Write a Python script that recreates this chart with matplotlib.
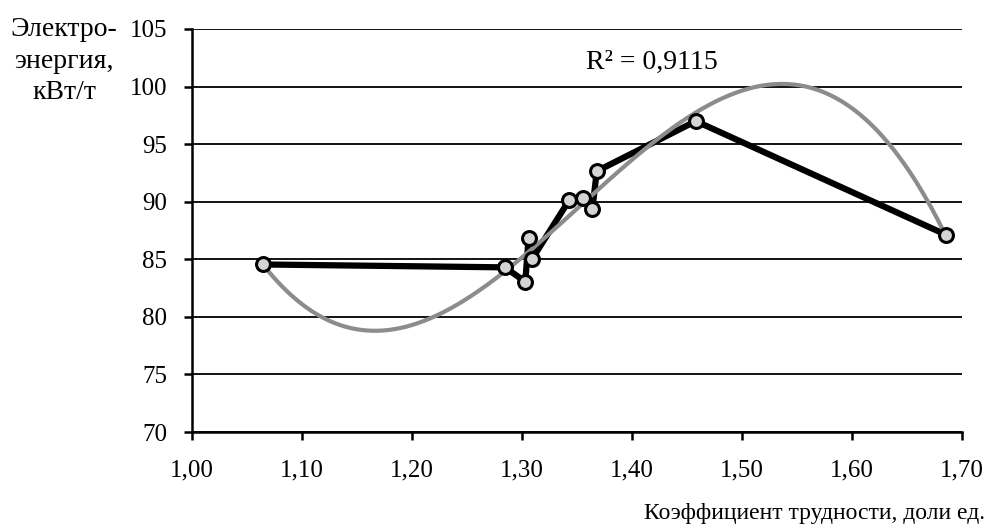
import numpy as np
import matplotlib.pyplot as plt
from matplotlib.ticker import FuncFormatter

# === DATA ===
coef = [1.065, 1.2845, 1.303, 1.306, 1.309, 1.343, 1.355, 1.364, 1.368, 1.458, 1.685]
energy = [84.55, 84.3, 83.05, 86.85, 85.0, 90.15, 90.3, 89.4, 92.65, 97.0, 87.15]
r2_text = "R² = 0,9115"
ylabel_lines = ["Электро-", "энергия,", "кВт/т"]

plt.rcParams['font.family'] = ['Liberation Serif', 'DejaVu Serif']

fig = plt.figure(figsize=(9.87, 5.31), dpi=100)
ax = fig.add_axes([0.1945, 0.1864, 0.7802, 0.759])

# horizontal grid
ax.set_axisbelow(True)
ax.yaxis.grid(True, color='black', linewidth=1.3)

# data line
ax.plot(coef, energy, color='black', linewidth=4.5, zorder=3)

# cubic trend
p = np.polyfit(coef, energy, 3)
xs = np.linspace(min(coef), max(coef), 300)
ax.plot(xs, np.polyval(p, xs), color='#8c8c8c', linewidth=3, zorder=4)

ax.plot(coef, energy, linestyle='none', marker='o', markersize=10,
        markerfacecolor='#d4d4d4', markeredgecolor='black', markeredgewidth=2.2, zorder=5)

ax.set_xlim(1.0, 1.7)
ax.set_ylim(70, 105)
ax.set_xticks(np.arange(1.0, 1.71, 0.1))
ax.set_yticks(np.arange(70, 106, 5))
ax.xaxis.set_major_formatter(FuncFormatter(lambda v, pos: f"{v:.2f}".replace('.', ',')))

for s in ['top', 'right']:
    ax.spines[s].set_visible(False)
for s in ['left', 'bottom']:
    ax.spines[s].set_linewidth(1.8)
ax.tick_params(axis='both', direction='out', length=6, width=1.8, labelsize=18)
ax.tick_params(axis='x', pad=14)
ax.tick_params(axis='y', pad=12)

ax.text(1.418, 102.1, r2_text, fontsize=20, ha='center', va='center')

for i, line in enumerate(ylabel_lines):
    fig.text(0.065, 0.945 - i * 0.06, line, fontsize=20, ha='center', va='center')
fig.text(0.998, 0.033, "Коэффициент трудности, доли ед.", fontsize=17, ha='right', va='center')

fig.savefig('out.png', dpi=100)
